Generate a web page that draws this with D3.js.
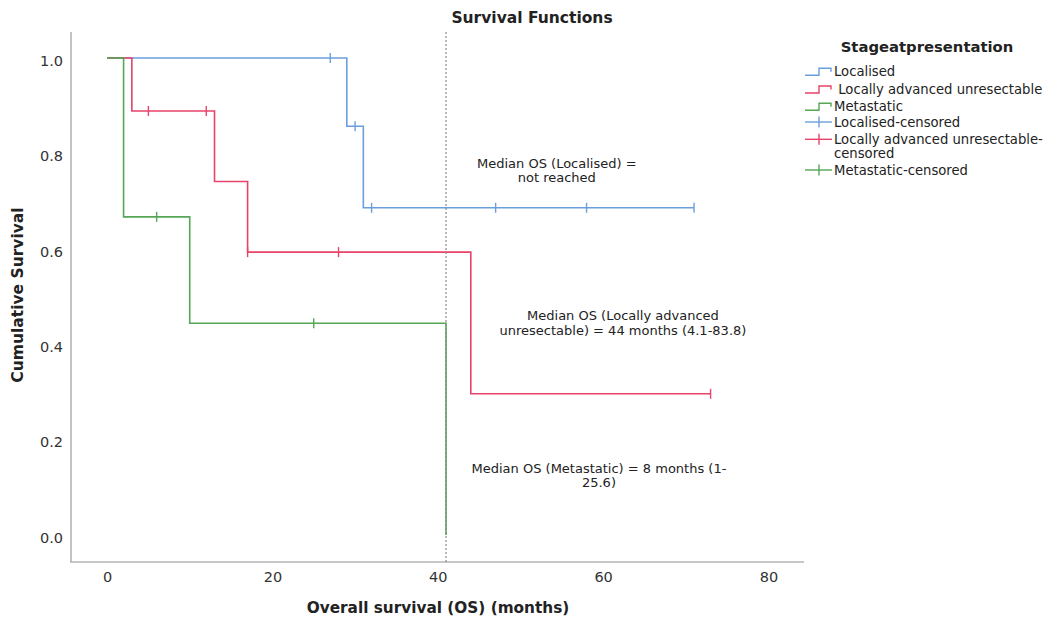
<!DOCTYPE html>
<html>
<head>
<meta charset="utf-8">
<script src="https://cdn.jsdelivr.net/npm/d3@7"></script>
<style>
  html, body { margin: 0; padding: 0; background: #fff; }
  svg { display: block; font-family: "DejaVu Sans", sans-serif; }
</style>
</head>
<body>
<svg id="chart" width="1052" height="623"></svg>
<script>
// ---- data ----
const groups = ["Localised", "Locally advanced unresectable", "Metastatic"];

const localisedStepTimes = [0, 29, 31];
const localisedStepSurv  = [1.0, 0.857, 0.686];
const localisedEndTime   = 71;
const localisedCensorTimes = [27, 30, 32, 47, 58, 71];
const localisedCensorSurv  = [1.0, 0.857, 0.686, 0.686, 0.686, 0.686];

const advancedStepTimes = [0, 3, 13, 17, 44];
const advancedStepSurv  = [1.0, 0.889, 0.741, 0.593, 0.296];
const advancedEndTime   = 73;
const advancedCensorTimes = [5, 12, 17, 28, 73];
const advancedCensorSurv  = [0.889, 0.889, 0.593, 0.593, 0.296];

const metastaticStepTimes = [0, 2, 10, 41];
const metastaticStepSurv  = [1.0, 0.667, 0.444, 0.0];
const metastaticEndTime   = 41;
const metastaticCensorTimes = [6, 25];
const metastaticCensorSurv  = [0.667, 0.444];

const xTicks = [0, 20, 40, 60, 80];
const yTicks = [0.0, 0.2, 0.4, 0.6, 0.8, 1.0];
const medianLineTime = 41;

const legendLabels = ["Localised", " Locally advanced unresectable", "Metastatic",
  "Localised-censored", ["Locally advanced unresectable-", "censored"], "Metastatic-censored"];

const annotations = [
  {lines: ["Median OS (Localised) =", "not reached"], t: 54.4, s: 0.77},
  {lines: ["Median OS (Locally advanced", "unresectable) = 44 months (4.1-83.8)"], t: 62.4, s: 0.45},
  {lines: ["Median OS (Metastatic) = 8 months (1-", "25.6)"], t: 59.5, s: 0.13}
];

// ---- styles ----
const colors = ["#6b9fdc", "#e8436a", "#55a655"];

const svg = d3.select("#chart");
const x = d3.scaleLinear().domain([-4.36, 84.3]).range([71, 804]);
const y = d3.scaleLinear().domain([-0.0566, 1.0545]).range([562, 32]);

const series = [
  {steps: localisedStepTimes, surv: localisedStepSurv, end: localisedEndTime, ct: localisedCensorTimes, cs: localisedCensorSurv},
  {steps: advancedStepTimes, surv: advancedStepSurv, end: advancedEndTime, ct: advancedCensorTimes, cs: advancedCensorSurv},
  {steps: metastaticStepTimes, surv: metastaticStepSurv, end: metastaticEndTime, ct: metastaticCensorTimes, cs: metastaticCensorSurv}
];

// axes lines
svg.append("line").attr("x1", 71).attr("x2", 71).attr("y1", y.range()[1]).attr("y2", y.range()[0])
  .attr("stroke", "#b4b4b4").attr("stroke-width", 1.6);
svg.append("line").attr("x1", 70).attr("x2", x.range()[1]).attr("y1", 562).attr("y2", 562)
  .attr("stroke", "#b4b4b4").attr("stroke-width", 1.6);

// tick labels via d3 axes
const xAxis = svg.append("g").attr("transform", "translate(0,562)")
  .call(d3.axisBottom(x).tickValues(xTicks).tickSize(0).tickPadding(10).tickFormat(d3.format("d")));
xAxis.select(".domain").remove();
xAxis.selectAll("text").attr("font-size", 14.5).attr("fill", "#333").attr("font-family", "DejaVu Sans, sans-serif");

const yAxis = svg.append("g").attr("transform", "translate(71,0)")
  .call(d3.axisLeft(y).tickValues(yTicks).tickSize(0).tickPadding(8).tickFormat(d3.format(".1f")));
yAxis.select(".domain").remove();
yAxis.selectAll("text").attr("font-size", 14.5).attr("fill", "#333").attr("dy", "0.5em").attr("font-family", "DejaVu Sans, sans-serif");

// survival step lines
series.forEach((s, i) => {
  const pts = s.steps.map((t, k) => [t, s.surv[k]]);
  pts.push([s.end, s.surv[s.surv.length - 1]]);
  const line = d3.line().x(d => x(d[0])).y(d => y(d[1])).curve(d3.curveStepAfter);
  svg.append("path").attr("d", line(pts)).attr("fill", "none")
    .attr("stroke", colors[i]).attr("stroke-width", 1.6);
});
// censor marks
series.forEach((s, i) => {
  svg.append("g").selectAll("line").data(s.ct.map((t, k) => [t, s.cs[k]])).join("line")
    .attr("x1", d => x(d[0])).attr("x2", d => x(d[0]))
    .attr("y1", d => y(d[1]) - 5).attr("y2", d => y(d[1]) + 5)
    .attr("stroke", colors[i]).attr("stroke-width", 1.4);
});

// dotted median reference line
svg.append("line").attr("x1", x(medianLineTime)).attr("x2", x(medianLineTime))
  .attr("y1", 32).attr("y2", 562)
  .attr("stroke", "#888").attr("stroke-width", 1.2).attr("stroke-dasharray", "2,2");

// annotations
annotations.forEach(a => {
  const t = svg.append("text").attr("x", x(a.t)).attr("y", y(a.s))
    .attr("text-anchor", "middle").attr("font-size", 13).attr("fill", "#222");
  a.lines.forEach((l, k) => {
    t.append("tspan").attr("x", x(a.t)).attr("dy", k === 0 ? 0 : 14.5).text(l);
  });
});

// title
svg.append("text").attr("x", 532).attr("y", 23).attr("text-anchor", "middle")
  .attr("font-size", 15.5).attr("font-weight", "bold").attr("fill", "#222").text("Survival Functions");

// axis titles
svg.append("text").attr("x", 438).attr("y", 613).attr("text-anchor", "middle")
  .attr("font-size", 15.3).attr("font-weight", "bold").attr("fill", "#222").text("Overall survival (OS) (months)");
svg.append("text").attr("transform", "translate(23,295) rotate(-90)").attr("text-anchor", "middle")
  .attr("font-size", 15.5).attr("font-weight", "bold").attr("fill", "#222").text("Cumulative Survival");

// legend
const lg = svg.append("g");
lg.append("text").attr("x", 927).attr("y", 52).attr("text-anchor", "middle")
  .attr("font-size", 14.8).attr("font-weight", "bold").attr("fill", "#222").text("Stageatpresentation");
const rowY = [71.7, 89.5, 106.7, 122, 139.3, 170];
legendLabels.forEach((lab, i) => {
  const yc = rowY[i];
  const c = colors[i % 3];
  if (i < 3) {
    lg.append("path").attr("d", `M805,${yc + 3.5}H819V${yc - 3.5}H831V${yc}`)
      .attr("fill", "none").attr("stroke", c).attr("stroke-width", 1.4);
  } else {
    lg.append("line").attr("x1", 805).attr("x2", 832).attr("y1", yc).attr("y2", yc)
      .attr("stroke", c).attr("stroke-width", 1.4);
    lg.append("line").attr("x1", 819).attr("x2", 819).attr("y1", yc - 5.5).attr("y2", yc + 5.5)
      .attr("stroke", c).attr("stroke-width", 1.4);
  }
  const t = lg.append("text").attr("x", 834).attr("y", yc + 4.5)
    .attr("font-size", 13.2).attr("fill", "#222").attr("xml:space", "preserve").style("white-space", "pre");
  if (Array.isArray(lab)) {
    lab.forEach((l, k) => t.append("tspan").attr("x", 834).attr("dy", k === 0 ? 0 : 14).text(l));
  } else {
    t.text(lab);
  }
});
</script>
</body>
</html>
